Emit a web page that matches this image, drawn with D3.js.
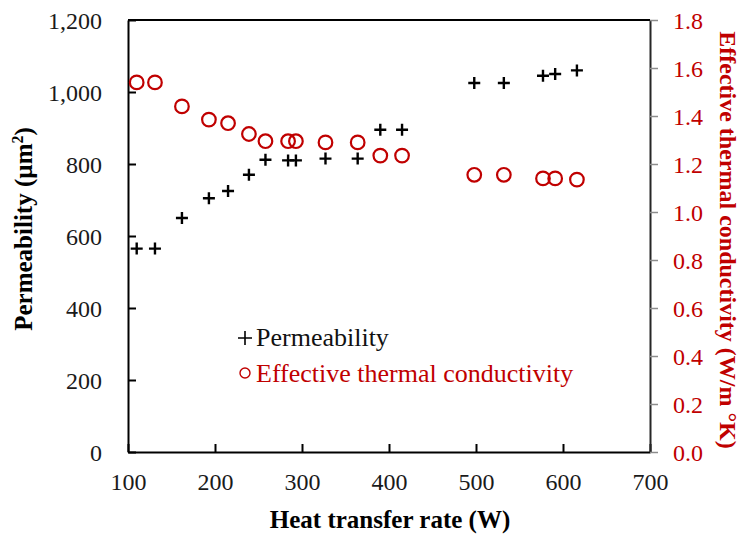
<!DOCTYPE html>
<html>
<head>
<meta charset="utf-8">
<script src="https://cdn.jsdelivr.net/npm/d3@7"></script>
<style>
  html, body { margin: 0; padding: 0; background: #fff; }
  svg { display: block; }
  text { font-family: "Liberation Serif", "Times New Roman", serif; }
</style>
</head>
<body>
<svg id="chart" width="740" height="538"></svg>
<script>
// Heat transfer rate (W) for each test run
const heatRate = [110, 131, 162, 193, 215, 239, 258, 284, 293, 327, 364, 390, 415, 498, 532, 577, 591, 616];
// Permeability (µm²)
const permeability = [565, 565, 650, 705, 725, 770, 812, 810, 810, 815, 815, 895, 895, 1025, 1025, 1045, 1050, 1060];
// Effective thermal conductivity (W/m °K)
const conductivity = [1.54, 1.54, 1.44, 1.385, 1.37, 1.325, 1.295, 1.295, 1.295, 1.29, 1.29, 1.235, 1.235, 1.155, 1.155, 1.14, 1.14, 1.135];

const xTicks = [100, 200, 300, 400, 500, 600, 700];
const yLeftTicks = [0, 200, 400, 600, 800, 1000, 1200];
const yRightTicks = [0, 0.2, 0.4, 0.6, 0.8, 1.0, 1.2, 1.4, 1.6, 1.8];

const RED = "#C00000";
const plot = { left: 128, right: 650, top: 20, bottom: 452 };

const svg = d3.select("#chart");

const x = d3.scaleLinear().domain([100, 700]).range([plot.left, plot.right]);
const yL = d3.scaleLinear().domain([0, 1200]).range([plot.bottom, plot.top]);
const yR = d3.scaleLinear().domain([0, 1.8]).range([plot.bottom, plot.top]);

// Top edge of the plot frame
svg.append("line")
  .attr("x1", plot.left).attr("x2", plot.right)
  .attr("y1", plot.top).attr("y2", plot.top)
  .attr("stroke", "#000").attr("stroke-width", 2);

// Bottom axis, ticks pointing into the plot
const gx = svg.append("g")
  .attr("transform", `translate(0,${plot.bottom})`)
  .call(d3.axisBottom(x).tickValues(xTicks).tickSizeInner(-8).tickSizeOuter(0));
gx.select(".domain").attr("stroke", "#000").attr("stroke-width", 2);
gx.selectAll(".tick line").attr("stroke", "#000").attr("stroke-width", 2);
gx.selectAll(".tick text")
  .attr("y", 38).attr("dy", 0)
  .attr("fill", "#1a1a1a").attr("font-size", 24);

// Left axis (permeability), ticks pointing into the plot
const gl = svg.append("g")
  .attr("transform", `translate(${plot.left},0)`)
  .call(d3.axisLeft(yL).tickValues(yLeftTicks).tickFormat(d3.format(",")).tickSizeInner(-8).tickSizeOuter(0));
gl.select(".domain").attr("stroke", "#000").attr("stroke-width", 2);
gl.selectAll(".tick line").attr("stroke", "#000").attr("stroke-width", 2);
gl.selectAll(".tick text")
  .attr("x", -26).attr("dy", "0.36em")
  .attr("fill", "#1a1a1a").attr("font-size", 24);

// Right axis (conductivity), grey ticks outside
const gr = svg.append("g")
  .attr("transform", `translate(${plot.right},0)`)
  .call(d3.axisRight(yR).tickValues(yRightTicks).tickFormat(d3.format(".1f")).tickSizeInner(8).tickSizeOuter(0));
gr.select(".domain").attr("stroke", "#262626").attr("stroke-width", 2);
gr.selectAll(".tick line").attr("stroke", "#8c8c8c").attr("stroke-width", 1.5);
gr.selectAll(".tick text")
  .attr("x", 23).attr("dy", "0.36em")
  .attr("fill", RED).attr("font-size", 24);

// Axis titles
svg.append("text")
  .attr("x", (plot.left + plot.right) / 2 + 1).attr("y", 528)
  .attr("text-anchor", "middle")
  .attr("font-weight", "bold").attr("font-size", 25).attr("fill", "#000")
  .text("Heat transfer rate (W)");

const leftTitle = svg.append("text")
  .attr("transform", "translate(32,229) rotate(-90)")
  .attr("text-anchor", "middle")
  .attr("font-weight", "bold").attr("font-size", 25).attr("fill", "#000");
leftTitle.append("tspan").text("Permeability (µm");
leftTitle.append("tspan").attr("dy", -9).attr("font-size", 16).text("2");
leftTitle.append("tspan").attr("dy", 9).text(")");

svg.append("text")
  .attr("transform", "translate(720,240) rotate(90)")
  .attr("text-anchor", "middle")
  .attr("font-weight", "bold").attr("font-size", 24).attr("fill", RED)
  .text("Effective thermal conductivity (W/m °K)");

// Conductivity markers: open red circles
svg.append("g")
  .selectAll("circle")
  .data(heatRate.map((h, i) => ({ h, k: conductivity[i] })))
  .join("circle")
  .attr("cx", d => x(d.h))
  .attr("cy", d => yR(d.k))
  .attr("r", 6.8)
  .attr("fill", "none")
  .attr("stroke", RED)
  .attr("stroke-width", 2.2);

// Permeability markers: black plus signs
svg.append("g")
  .selectAll("path")
  .data(heatRate.map((h, i) => ({ h, p: permeability[i] })))
  .join("path")
  .attr("transform", d => `translate(${x(d.h)},${yL(d.p)})`)
  .attr("d", "M-6,0H6M0,-6V6")
  .attr("fill", "none")
  .attr("stroke", "#000")
  .attr("stroke-width", 2.4);

// Legend
const legend = svg.append("g");
legend.append("path")
  .attr("d", "M238,338H252M245,331V345")
  .attr("stroke", "#000").attr("stroke-width", 1.6).attr("fill", "none");
legend.append("text")
  .attr("x", 256).attr("y", 346)
  .attr("font-size", 26).attr("fill", "#111")
  .text("Permeability");
legend.append("circle")
  .attr("cx", 245).attr("cy", 373).attr("r", 5)
  .attr("fill", "none").attr("stroke", RED).attr("stroke-width", 1.4);
legend.append("text")
  .attr("x", 256).attr("y", 382)
  .attr("font-size", 26).attr("fill", RED)
  .text("Effective thermal conductivity");
</script>
</body>
</html>
